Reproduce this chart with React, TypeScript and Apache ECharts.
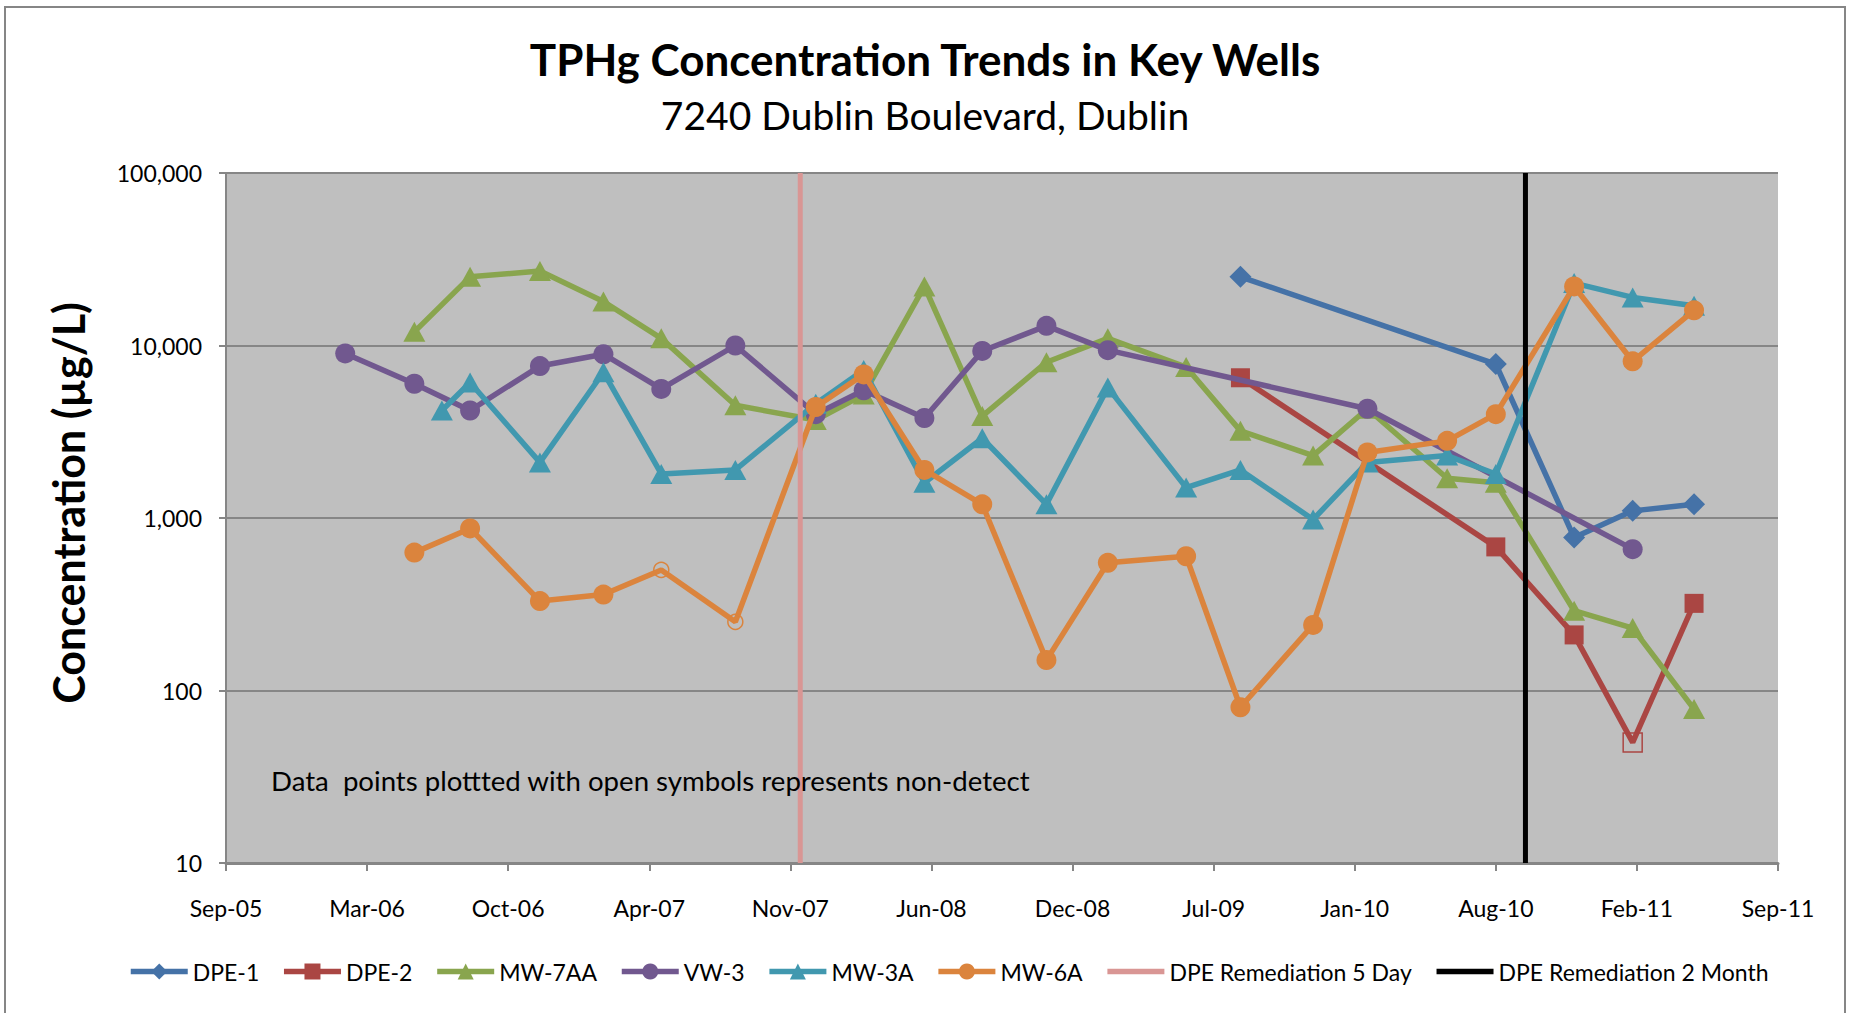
import React, { useEffect, useRef } from "react";
import * as echarts from "echarts";

// ---- axis definition ----
const AXIS_START = "2005-09-05";
const X_MAX_DAYS = 2200;
const X_STEP_DAYS = 200;
const Y_MIN = 10;
const Y_MAX = 100000;
const MONTHS = ["Jan", "Feb", "Mar", "Apr", "May", "Jun", "Jul", "Aug", "Sep", "Oct", "Nov", "Dec"];

// ---- data ----
const seriesNames = ["DPE-1", "DPE-2", "MW-7AA", "VW-3", "MW-3A", "MW-6A"];
const lineNames = ["DPE Remediation 5 Day", "DPE Remediation 2 Month"];

const dpe1Dates = ["2009-08-13", "2010-08-10", "2010-11-29", "2011-02-20", "2011-05-18"];
const dpe1Values = [25000, 7800, 770, 1100, 1200];

const dpe2Dates = ["2009-08-13", "2010-08-10", "2010-11-29", "2011-02-20", "2011-05-18"];
const dpe2Values = [6500, 680, 210, 50, 320];
const dpe2NonDetect = [3];

const mw7aaDates = [
  "2006-05-30", "2006-08-17", "2006-11-24", "2007-02-22", "2007-05-15", "2007-08-28", "2007-12-20",
  "2008-02-26", "2008-05-22", "2008-08-12", "2008-11-11", "2009-02-06", "2009-05-28", "2009-08-13",
  "2009-11-24", "2010-02-09", "2010-06-02", "2010-08-10", "2010-11-29", "2011-02-20", "2011-05-18",
];
const mw7aaValues = [12000, 25000, 27000, 18000, 11000, 4500, 3700, 5200, 22000, 3900, 8000, 11000, 7500, 3200, 2300, 4300, 1700, 1600, 290, 230, 78];

const vw3Dates = [
  "2006-02-21", "2006-05-30", "2006-08-17", "2006-11-24", "2007-02-22", "2007-05-15", "2007-08-28",
  "2007-12-20", "2008-02-26", "2008-05-22", "2008-08-12", "2008-11-11", "2009-02-06", "2010-02-09", "2011-02-20",
];
const vw3Values = [9000, 6000, 4200, 7600, 8900, 5600, 10000, 4000, 5500, 3800, 9300, 13000, 9400, 4300, 660];

const mw3aDates = [
  "2006-07-08", "2006-08-17", "2006-11-24", "2007-02-22", "2007-05-15", "2007-08-28", "2007-12-20",
  "2008-02-26", "2008-05-22", "2008-08-12", "2008-11-11", "2009-02-06", "2009-05-28", "2009-08-13",
  "2009-11-24", "2010-02-09", "2010-06-02", "2010-08-10", "2010-11-29", "2011-02-20", "2011-05-18",
];
const mw3aValues = [4200, 6100, 2100, 7000, 1800, 1900, 4600, 7200, 1600, 2900, 1200, 5700, 1500, 1900, 980, 2100, 2300, 1800, 23000, 19000, 17000];

const mw6aDates = [
  "2006-05-30", "2006-08-17", "2006-11-24", "2007-02-22", "2007-05-15", "2007-08-28", "2007-12-20",
  "2008-02-26", "2008-05-22", "2008-08-12", "2008-11-11", "2009-02-06", "2009-05-28", "2009-08-13",
  "2009-11-24", "2010-02-09", "2010-06-02", "2010-08-10", "2010-11-29", "2011-02-20", "2011-05-18",
];
const mw6aValues = [630, 870, 330, 360, 500, 250, 4400, 6800, 1900, 1200, 150, 550, 600, 80, 240, 2400, 2800, 4000, 22000, 8100, 16000];
const mw6aNonDetect = [4, 5];

const remediationDates = ["2007-11-28", "2010-09-21"];

const titleText = "TPHg Concentration Trends in Key Wells";
const subtitleText = "7240 Dublin Boulevard, Dublin";
const yAxisTitle = "Concentration (µg/L)";
const noteText = "Data  points plottted with open symbols represents non-detect";

// ---- styling ----
const FONT = "Lato, 'Liberation Sans', sans-serif";
const colors = ["#4572A7", "#AA4643", "#89A54E", "#71588F", "#4198AF", "#DB843D"];
const lineColors = ["#D99694", "#000000"];
const symbols = ["diamond", "rect", "triangle", "circle", "triangle", "circle"];
const symbolSizes: any[] = [22, 19, [22, 20], 20, [22, 20], 20];

const DAY = 86400000;
const baseMs = Date.parse(AXIS_START + "T00:00:00Z");
const dayOffset = (d: string) => (Date.parse(d + "T00:00:00Z") - baseMs) / DAY;
const fmtDate = (v: number) => {
  const d = new Date(baseMs + v * DAY);
  return `${MONTHS[d.getUTCMonth()]}-${String(d.getUTCFullYear()).slice(2)}`;
};

function buildSeries(idx: number, dates: string[], values: number[], nonDetect: number[] = []) {
  const color = colors[idx];
  return {
    name: seriesNames[idx],
    type: "line",
    symbol: symbols[idx],
    symbolSize: symbolSizes[idx],
    showSymbol: true,
    lineStyle: { color, width: 5.5 },
    itemStyle: { color },
    z: 3 + idx,
    data: dates.map((d, i) => {
      const item: any = { value: [dayOffset(d), values[i]] };
      if (nonDetect.includes(i)) {
        item.symbolSize = symbols[idx] === "circle" ? 15 : 19;
        item.itemStyle = { color: "rgba(0,0,0,0)", borderColor: color, borderWidth: 1.5 };
      }
      return item;
    }),
  };
}

export default function App() {
  const ref = useRef<HTMLDivElement>(null);
  useEffect(() => {
    if (!ref.current) return;
    const chart = echarts.init(ref.current, null, { renderer: "svg" });
    const axisGray = "#868686";
    const option: any = {
      animation: false,
      backgroundColor: "#ffffff",
      textStyle: { fontFamily: FONT },
      grid: { left: 226, right: 71, top: 173, bottom: 150, show: true, backgroundColor: "#BFBFBF", borderWidth: 0 },
      xAxis: {
        type: "value",
        min: 0,
        max: X_MAX_DAYS,
        interval: X_STEP_DAYS,
        axisLine: { show: true, onZero: false, lineStyle: { color: axisGray, width: 3 } },
        axisTick: { show: true, length: 8, lineStyle: { color: axisGray, width: 2 } },
        splitLine: { show: false },
        axisLabel: { margin: 33, fontFamily: FONT, fontSize: 23, color: "#000", showMinLabel: true, showMaxLabel: true, formatter: (v: number) => fmtDate(v) },
      },
      yAxis: {
        type: "log",
        logBase: 10,
        min: Y_MIN,
        max: Y_MAX,
        axisLine: { show: true, lineStyle: { color: axisGray, width: 2 } },
        axisTick: { show: true, length: 7, lineStyle: { color: axisGray, width: 2 } },
        splitLine: { show: true, lineStyle: { color: axisGray, width: 2 } },
        axisLabel: { margin: 24, fontFamily: FONT, fontSize: 23, color: "#000", formatter: (v: number) => Math.round(v).toLocaleString("en-US") },
      },
      legend: {
        left: 123,
        top: 955,
        itemWidth: 57,
        itemHeight: 20,
        itemGap: 22,
        lineStyle: { width: 5.5 },
        textStyle: { fontFamily: FONT, fontSize: 23, color: "#000" },
        data: [
          ...seriesNames,
          ...lineNames.map((name) => ({ name, itemStyle: { opacity: 0, color: "rgba(0,0,0,0)", borderWidth: 0 } })),
        ],
      },
      series: [
        buildSeries(0, dpe1Dates, dpe1Values),
        buildSeries(1, dpe2Dates, dpe2Values, dpe2NonDetect),
        buildSeries(2, mw7aaDates, mw7aaValues),
        buildSeries(3, vw3Dates, vw3Values),
        buildSeries(4, mw3aDates, mw3aValues),
        buildSeries(5, mw6aDates, mw6aValues, mw6aNonDetect),
        ...lineNames.map((name, i) => ({
          name,
          type: "line",
          symbol: "none",
          lineStyle: { color: lineColors[i], width: 5 },
          itemStyle: { color: lineColors[i] },
          z: 10 + i,
          data: [
            [dayOffset(remediationDates[i]), Y_MIN],
            [dayOffset(remediationDates[i]), Y_MAX],
          ],
        })),
      ],
      graphic: [
        { type: "rect", silent: true, z: 0, shape: { x: 5, y: 7, width: 1840, height: 1030 }, style: { fill: "none", stroke: "#868686", lineWidth: 2 } },
        { type: "text", x: 925, y: 59, z: 100, style: { text: titleText, font: `bold 44px ${FONT}`, fill: "#000", align: "center", verticalAlign: "middle" } },
        { type: "text", x: 925, y: 115, z: 100, style: { text: subtitleText, font: `39px ${FONT}`, fill: "#000", align: "center", verticalAlign: "middle" } },
        { type: "text", x: 68, y: 503, rotation: Math.PI / 2, z: 100, style: { text: yAxisTitle, font: `bold 43px ${FONT}`, fill: "#000", align: "center", verticalAlign: "middle" } },
        { type: "text", x: 271, y: 780, z: 100, style: { text: noteText, font: `27.6px ${FONT}`, fill: "#000", align: "left", verticalAlign: "middle" } },
      ],
    };
    chart.setOption(option);
    return () => chart.dispose();
  }, []);
  return <div ref={ref} style={{ position: "absolute", left: 0, top: 0, width: 1849, height: 1013 }} />;
}
